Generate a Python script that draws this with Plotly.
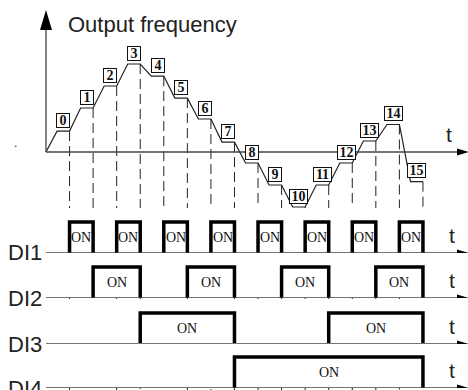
import plotly.graph_objects as go

# step change instants (one per dashed line) and ramp time, in the same time units
switch_t = [1, 2, 3, 4, 5, 6, 7, 8, 9, 10, 11, 12, 13, 14, 15, 16]
ramp_t = 0.47
# output frequency of step 0..15 (arbitrary units, + forward / - reverse)
freq = [9.5, 20, 30, 40, 34.5, 24.5, 15, 4.5, -5, -15, -25, -15, -5, 5, 12.5, -13.5]
step_labels = ["0", "1", "2", "3", "4", "5", "6", "7",
               "8", "9", "10", "11", "12", "13", "14", "15"]

# terminal states during each step
di_names = ["DI1", "DI2", "DI3", "DI4"]
di1 = [0, 1, 0, 1, 0, 1, 0, 1, 0, 1, 0, 1, 0, 1, 0, 1]
di2 = [0, 0, 1, 1, 0, 0, 1, 1, 0, 0, 1, 1, 0, 0, 1, 1]
di3 = [0, 0, 0, 0, 1, 1, 1, 1, 0, 0, 0, 0, 1, 1, 1, 1]
di4 = [0, 0, 0, 0, 0, 0, 0, 0, 1, 1, 1, 1, 1, 1, 1, 1]

W, H = 468, 390
x_range = [-1.952, 17.912]
f_range = [-108.18, 69.09]
di_range = [0, 1.45]
di_domains = [[0.35128, 0.46667], [0.23590, 0.35128], [0.11795, 0.23333], [0.00513, 0.12051]]

axis_col = "#444444"
ink = "#111111"
sans = "Liberation Sans, Arial, sans-serif"
serif = "Liberation Serif, Times New Roman, serif"

fig = go.Figure()
starts = [0] + switch_t[:-1]

# frequency profile: ramp then plateau for every step
fx, fy = [0], [0]
for k in range(len(freq)):
    fx += [starts[k] + ramp_t, switch_t[k]]
    fy += [freq[k], freq[k]]
fig.add_trace(go.Scatter(x=fx, y=fy, mode="lines", line=dict(color="#222222", width=1.2),
                         hoverinfo="skip"))

# dashed lines from each plateau end down to the bottom
for k in range(len(freq)):
    fig.add_trace(go.Scatter(x=[switch_t[k], switch_t[k]], y=[freq[k], f_range[0]], mode="lines",
                             line=dict(color="#222222", width=1, dash="10px,5px"), hoverinfo="skip"))

shapes = []
annotations = []

# boxed step numbers
for k in range(len(freq)):
    annotations.append(dict(x=(starts[k] + ramp_t + switch_t[k]) / 2, y=freq[k], xref="x", yref="y",
                            yshift=11, text="<b>%s</b>" % step_labels[k], showarrow=False,
                            font=dict(family=serif, size=14, color=ink), bgcolor="white",
                            bordercolor=ink, borderwidth=1, borderpad=0,
                            width=12 if len(step_labels[k]) == 1 else 17, height=13))

# frequency axes
shapes.append(dict(type="line", xref="x", yref="y", x0=0, x1=0, y0=0, y1=60, line=dict(color=axis_col, width=1.3)))
shapes.append(dict(type="path", xref="x", yref="y", xsizemode="pixel", ysizemode="pixel",
                   xanchor=0, yanchor=64.5, path="M-6,-20 L6,-20 L0,0 Z", fillcolor="black", line=dict(width=0)))
shapes.append(dict(type="line", xref="x", yref="y", x0=0, x1=x_range[1] - 0.3, y0=0, y1=0,
                   line=dict(color=axis_col, width=1.3)))
shapes.append(dict(type="path", xref="x", yref="y", xsizemode="pixel", ysizemode="pixel",
                   xanchor=x_range[1], yanchor=0, path="M-11,-3.5 L1,0 L-11,3.5 Z", fillcolor="black",
                   line=dict(width=0)))
annotations.append(dict(x=66 / W, y=1 - 25 / H, xref="paper", yref="paper", xanchor="left", yanchor="middle",
                        text="Output frequency", showarrow=False, font=dict(family=sans, size=22, color="#222222")))
annotations.append(dict(x=17.1, y=0, xref="x", yref="y", yanchor="bottom", yshift=4, text="t",
                        showarrow=False, font=dict(family=sans, size=21, color="#222222")))
annotations.append(dict(x=12 / W, y=1 - 143 / H, xref="paper", yref="paper", text=".", showarrow=False,
                        font=dict(family=sans, size=12, color="#333333")))


def on_runs(states):
    runs = []
    k = 0
    while k < len(states):
        if states[k]:
            j = k
            while j + 1 < len(states) and states[j + 1]:
                j += 1
            runs.append((starts[k], switch_t[j]))
            k = j + 1
        else:
            k += 1
    return runs


for i, (name, states) in enumerate(zip(di_names, [di1, di2, di3, di4])):
    yname = "y%d" % (i + 2)
    px, py = [], []
    for a, b in on_runs(states):
        px += [a, a, b, b, None]
        py += [0, 1, 1, 0, None]
        annotations.append(dict(x=(a + b) / 2, y=0.5, xref="x", yref=yname, text="ON", showarrow=False,
                                font=dict(family=serif, size=14, color=ink)))
    fig.add_trace(go.Scatter(x=px, y=py, yaxis=yname, mode="lines", line=dict(color="black", width=3.5),
                             hoverinfo="skip"))
    shapes.append(dict(type="line", xref="x", yref=yname, x0=0, x1=x_range[1] - 0.3, y0=0, y1=0,
                       line=dict(color=axis_col, width=1.3)))
    shapes.append(dict(type="path", xref="x", yref=yname, xsizemode="pixel", ysizemode="pixel",
                       xanchor=x_range[1], yanchor=0, path="M-11,-3.5 L1,0 L-11,3.5 Z", fillcolor="black",
                       line=dict(width=0)))
    annotations.append(dict(x=0, y=0, xref="x", yref=yname, xanchor="right", yanchor="middle", xshift=-2,
                            text=name, showarrow=False, font=dict(family=sans, size=22, color="#222222")))
    annotations.append(dict(x=17.25, y=0, xref="x", yref=yname, yanchor="bottom", yshift=4, text="t",
                            showarrow=False, font=dict(family=sans, size=21, color="#222222")))

layout_axes = {}
for i in range(4):
    layout_axes["yaxis%d" % (i + 2)] = dict(domain=di_domains[i], range=di_range, anchor="x", visible=False,
                                            fixedrange=True)

fig.update_layout(
    width=W, height=H, margin=dict(l=0, r=0, t=0, b=0),
    paper_bgcolor="white", plot_bgcolor="white", showlegend=False,
    xaxis=dict(range=x_range, visible=False, fixedrange=True),
    yaxis=dict(range=f_range, domain=[0, 1], visible=False, fixedrange=True),
    shapes=shapes, annotations=annotations,
    **layout_axes,
)

# page body has an 8px default margin, drop it so the figure sits at the window corner
fig.write_html("out.html", config={"displayModeBar": False},
               post_script="document.body.style.margin='0';")
